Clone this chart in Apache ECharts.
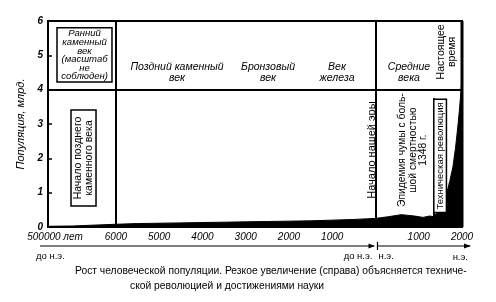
<!DOCTYPE html>
<html><head><meta charset="utf-8">
<script src="https://cdn.jsdelivr.net/npm/echarts@6/dist/echarts.min.js"></script>
<style>html,body{margin:0;padding:0;background:#fff}#c{width:496px;height:302px}</style>
</head><body><div id="c"></div>
<script>
// ---- data ----
const X_LEFT = -7570;   // stands for "500000 лет" (scale not respected)
const X_RIGHT = 2000;
const years = [-7570,-7000,-6000,-5500,-5000,-4500,-4000,-3500,-3000,-2500,-2000,-1500,-1000,-500,0,300,600,900,1100,1250,1348,1400,1490,1575,1650,1720,1790,1850,1910,1940,1960,1980,2000];
const population = [0.02,0.03,0.08,0.1,0.11,0.12,0.13,0.14,0.15,0.16,0.17,0.18,0.2,0.22,0.25,0.3,0.36,0.32,0.28,0.32,0.3,0.38,0.55,0.75,1.0,1.35,1.75,2.3,3.0,3.4,3.7,4.0,4.4];
const xTickValues = [X_LEFT,-6000,-5000,-4000,-3000,-2000,-1000,1000,2000];
const xTickLabels = ['500000 лет','6000','5000','4000','3000','2000','1000','1000','2000'];
const yTickValues = [0,1,2,3,4,5,6];
const eraLabels = [
  {text:'Поздний каменный\nвек', x:-4588, y:4.49},
  {text:'Бронзовый\nвек', x:-2484, y:4.49},
  {text:'Век\nжелеза', x:-889, y:4.49},
  {text:'Средние\nвека', x:775, y:4.49}
];
const eventLines = [
  {x:-6000, y0:0, y1:6},
  {x:0, y0:0, y1:6},
  {x:1348, y0:0.3, y1:3.75}
];
const caption1 = 'Рост человеческой популяции. Резкое увеличение (справа) объясняется техниче-';
const caption2 = 'ской революцией и достижениями науки';

const FONT = '"Liberation Sans", Arial, sans-serif';
const chart = echarts.init(document.getElementById('c'), null, {renderer:'canvas'});
const seriesData = years.map((y,i)=>[y,population[i]]);

chart.setOption({
  animation:false,
  backgroundColor:'#fff',
  grid:{left:48,right:34,top:21,bottom:75,show:true,borderColor:'#000',borderWidth:2},
  xAxis:{type:'value',min:X_LEFT,max:X_RIGHT,
    axisLine:{onZero:false,lineStyle:{color:'#000',width:2}},
    splitLine:{show:false},
    axisTick:{inside:true,length:4,lineStyle:{color:'#000',width:1.5},customValues:xTickValues.slice(1,-1)},
    axisLabel:{customValues:xTickValues,color:'#000',fontStyle:'italic',fontFamily:FONT,fontSize:10,margin:5,
      rich:{first:{padding:[0,0,0,14],fontStyle:'italic',fontFamily:FONT,fontSize:10,color:'#000'}},
      formatter:v=>{const i=xTickValues.indexOf(v);if(i<0)return '';return i===0?'{first|'+xTickLabels[i]+'}':xTickLabels[i];}}
  },
  yAxis:{type:'value',min:0,max:6,interval:1,
    name:'Популяция, млрд.',nameLocation:'middle',nameGap:19,nameRotate:90,
    nameTextStyle:{color:'#000',fontStyle:'italic',fontFamily:FONT,fontSize:11},
    axisLine:{show:true,onZero:false,lineStyle:{color:'#000',width:2}},
    splitLine:{show:false},
    axisTick:{show:true,inside:true,length:4,lineStyle:{color:'#000',width:1.5}},
    axisLabel:{color:'#000',fontStyle:'italic',fontWeight:'bold',fontFamily:FONT,fontSize:10,margin:5,
      formatter:v=>yTickValues.includes(v)?String(v):''}
  },
  series:[{type:'line',data:seriesData,symbol:'none',smooth:false,
    lineStyle:{color:'#000',width:1},areaStyle:{color:'#000',opacity:1},
    markLine:{silent:true,symbol:['none','none'],label:{show:false},
      lineStyle:{color:'#000',width:2,type:'solid'},
      data:[
        [{coord:[X_LEFT,4]},{coord:[X_RIGHT,4]}],
        ...eventLines.map(l=>[{coord:[l.x,l.y0]},{coord:[l.x,l.y1]}])
      ]}
  }]
});

function px(x,y){return chart.convertToPixel({gridIndex:0},[x,y]);}
const g=[];
function txt(x,y,text,opt){
  const p=px(x,y);
  g.push({type:'text',x:p[0],y:p[1],rotation:opt&&opt.rot?Math.PI/2:0,z:50,
    style:{text:text,fill:'#000',font:(opt&&opt.font)||('italic 10.5px '+FONT),
      textAlign:'center',textVerticalAlign:'middle',lineHeight:(opt&&opt.lh)||11}});
}
function box(x0,y0,x1,y1,w){
  const a=px(x0,y0),b=px(x1,y1);
  g.push({type:'rect',z:49,shape:{x:Math.min(a[0],b[0]),y:Math.min(a[1],b[1]),width:Math.abs(b[0]-a[0]),height:Math.abs(b[1]-a[1])},
    style:{fill:'#fff',stroke:'#000',lineWidth:w||1.5}});
}
// boxed labels
box(-7362,4.22,-6091,5.80,1.5);
txt(-6726,5.0,'Ранний\nкаменный\nвек\n(масштаб\nне\nсоблюден)',{lh:8.6,font:'italic 9.5px '+FONT});
box(-7038,0.61,-6460,3.41,1.5);
txt(-6749,2.01,'Начало позднего\nкаменного века',{rot:true,lh:11,font:'10.5px '+FONT});
eraLabels.forEach(e=>txt(e.x,e.y,e.text,{lh:11}));
txt(1653,5.1,'Настоящее\nвремя',{rot:true,lh:11,font:'10.5px '+FONT});
txt(-80,2.24,'Начало нашей эры',{rot:true,font:'11px '+FONT});
txt(867,2.24,'Эпидемия чумы с боль-\nшой смертностью\n1348 г.',{rot:true,lh:10.5,font:'10.3px '+FONT});
box(1348,0.42,1640,3.72,1.5);
txt(1494,2.07,'Техническая революция',{rot:true,font:'9.5px '+FONT});
// right thick border
(function(){const a=px(X_RIGHT,0),b=px(X_RIGHT,6);
  g.push({type:'line',z:48,shape:{x1:a[0],y1:a[1],x2:b[0],y2:b[1]},style:{stroke:'#000',lineWidth:3}});})();
// era direction arrows below the axis
(function(){
  const y=246; const p0=px(0,0)[0]; const left=px(X_LEFT,0)[0]-8, right=px(X_RIGHT,0)[0]+8;
  g.push({type:'line',shape:{x1:left,y1:y,x2:p0-1,y2:y},style:{stroke:'#000',lineWidth:1.2}});
  g.push({type:'polygon',shape:{points:[[p0-1,y],[p0-7,y-2.5],[p0-7,y+2.5]]},style:{fill:'#000'}});
  g.push({type:'line',shape:{x1:p0+2,y1:y-4,x2:p0+2,y2:y+4},style:{stroke:'#000',lineWidth:1.2}});
  g.push({type:'line',shape:{x1:p0+2,y1:y,x2:right,y2:y},style:{stroke:'#000',lineWidth:1.2}});
  g.push({type:'polygon',shape:{points:[[right+1,y],[right-6,y-2.5],[right-6,y+2.5]]},style:{fill:'#000'}});
  const f='9.5px '+FONT;
  g.push({type:'text',x:36,y:256,style:{text:'до н.э.',font:f,fill:'#000',textAlign:'left',textVerticalAlign:'middle'}});
  g.push({type:'text',x:p0-3,y:256,style:{text:'до н.э.',font:f,fill:'#000',textAlign:'right',textVerticalAlign:'middle'}});
  g.push({type:'text',x:p0+3,y:256,style:{text:'н.э.',font:f,fill:'#000',textAlign:'left',textVerticalAlign:'middle'}});
  g.push({type:'text',x:right-2,y:257,style:{text:'н.э.',font:f,fill:'#000',textAlign:'right',textVerticalAlign:'middle'}});
})();
// caption
g.push({type:'text',x:75,y:271,style:{text:caption1,font:'10.3px '+FONT,fill:'#000',textAlign:'left',textVerticalAlign:'middle'}});
g.push({type:'text',x:130,y:286,style:{text:caption2,font:'10.3px '+FONT,fill:'#000',textAlign:'left',textVerticalAlign:'middle'}});
chart.setOption({graphic:g});
</script></body></html>
